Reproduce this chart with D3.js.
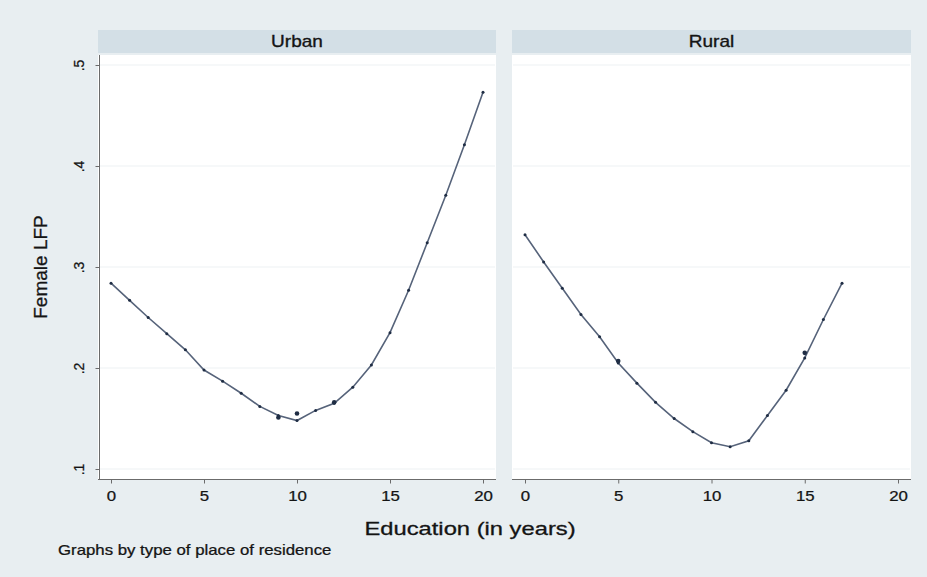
<!DOCTYPE html>
<html>
<head>
<meta charset="utf-8">
<script src="https://cdn.jsdelivr.net/npm/d3@7/dist/d3.min.js"></script>
<style>
  html, body { margin: 0; padding: 0; background: #e8eef1; }
  svg { display: block; font-family: "Liberation Sans", Arial, Helvetica, sans-serif; }
</style>
</head>
<body>
<svg id="chart" width="927" height="577"></svg>
<script>
// Female labour-force participation by years of education, split by residence
const panelNames = ["Urban", "Rural"];
const urbanYears = [0,1,2,3,4,5,6,7,8,9,10,11,12,13,14,15,16,17,18,19,20];
const urbanLFP   = [0.284,0.267,0.250,0.234,0.218,0.198,0.187,0.175,0.162,0.153,0.148,
                    0.158,0.165,0.181,0.203,0.235,0.277,0.324,0.371,0.421,0.473];
const ruralYears = [0,1,2,3,4,5,6,7,8,9,10,11,12,13,14,15,16,17];
const ruralLFP   = [0.332,0.305,0.279,0.253,0.231,0.205,0.185,0.166,0.150,0.137,0.126,
                    0.122,0.128,0.153,0.178,0.210,0.248,0.284];
// repeated observations that sit on top of the fitted points
const urbanRepeatYears = [9, 10, 12];
const urbanRepeatLFP   = [0.151, 0.155, 0.166];
const ruralRepeatYears = [5, 15];
const ruralRepeatLFP   = [0.207, 0.215];

const xTicks = [0, 5, 10, 15, 20];
const yTicks = [0.1, 0.2, 0.3, 0.4, 0.5];
const xTitle = "Education (in years)";
const yTitle = "Female LFP";
const noteText = "Graphs by type of place of residence";

const svg = d3.select("#chart");
const W = 927, H = 577;
const stretch = 1.2;          // wide text, as in the exported graph
const ink = "#141414";

svg.append("rect").attr("width", W).attr("height", H).attr("fill", "#e8eef1");

const bandTop = 30, bandBottom = 53;
const plotTop = 55, plotBottom = 479;
const boxes = [
  { left: 98,  right: 496 },
  { left: 512, right: 911 }
];
const pad = 13;

const y = d3.scaleLinear().domain([0.1, 0.5]).range([469, 65]);

const series = [
  { years: urbanYears, lfp: urbanLFP, ry: urbanRepeatYears, rl: urbanRepeatLFP },
  { years: ruralYears, lfp: ruralLFP, ry: ruralRepeatYears, rl: ruralRepeatLFP }
];

const lineColor = "#56637a";
const dotColor = "#1f2d44";
const fmt = v => d3.format(".1f")(v).replace(/^0/, "");

boxes.forEach((b, i) => {
  const g = svg.append("g");
  const x = d3.scaleLinear().domain([0, 20]).range([b.left + pad, b.right - pad]);

  // strip title
  g.append("rect")
    .attr("x", b.left).attr("y", bandTop)
    .attr("width", b.right - b.left).attr("height", bandBottom - bandTop)
    .attr("fill", "#d3dfe6");
  g.append("text")
    .attr("transform", `translate(${(b.left + b.right) / 2},${bandTop + 17}) scale(1.12,1)`)
    .attr("text-anchor", "middle")
    .attr("font-size", 17).attr("fill", ink)
    .attr("stroke", ink).attr("stroke-width", 0.35)
    .text(panelNames[i]);

  // plot region
  g.append("rect")
    .attr("x", b.left).attr("y", plotTop)
    .attr("width", b.right - b.left).attr("height", plotBottom - plotTop)
    .attr("fill", "#ffffff");

  // grid lines
  g.append("g").selectAll("line").data(yTicks).join("line")
    .attr("x1", b.left + 1).attr("x2", b.right - 1)
    .attr("y1", d => y(d)).attr("y2", d => y(d))
    .attr("stroke", "#edf1f3").attr("stroke-width", 1);

  // x axis
  const xa = g.append("g")
    .attr("transform", `translate(0,${plotBottom + 0.5})`)
    .call(d3.axisBottom(x).tickValues(xTicks).tickSize(4).tickPadding(8).tickFormat(d3.format("d")));
  xa.select(".domain").attr("d", `M${b.left},0H${b.right}`).attr("stroke", "#6b6b6b");
  xa.selectAll(".tick line").attr("stroke", "#6b6b6b");
  xa.selectAll(".tick text").attr("font-size", 14).attr("fill", ink)
    .attr("font-family", "Liberation Sans, Arial, sans-serif")
    .attr("stroke", ink).attr("stroke-width", 0.25)
    .attr("transform", `scale(${stretch},1)`);

  // y axis on the first column only
  if (i === 0) {
    const ya = g.append("g")
      .attr("transform", `translate(${b.left + 1.5},0)`)
      .call(d3.axisLeft(y).tickValues(yTicks).tickSize(4).tickFormat(fmt));
    ya.select(".domain").attr("d", `M0,${plotTop}V${plotBottom}`).attr("stroke", "#6b6b6b");
    ya.selectAll(".tick line").attr("stroke", "#6b6b6b");
    ya.selectAll(".tick text")
      .attr("font-size", 14).attr("fill", ink)
      .attr("font-family", "Liberation Sans, Arial, sans-serif")
      .attr("stroke", ink).attr("stroke-width", 0.25)
      .attr("text-anchor", "middle")
      .attr("x", 0).attr("dy", 0)
      .attr("transform", "translate(-19,0) rotate(-90)")
      .attr("dominant-baseline", "middle");
  }

  // fitted curve
  const s = series[i];
  const pts = s.years.map((yr, k) => [yr, s.lfp[k]]);
  const line = d3.line().x(d => x(d[0])).y(d => y(d[1]));
  g.append("path").datum(pts)
    .attr("d", line)
    .attr("fill", "none").attr("stroke", lineColor).attr("stroke-width", 1.6);

  g.append("g").selectAll("circle").data(pts).join("circle")
    .attr("cx", d => x(d[0])).attr("cy", d => y(d[1])).attr("r", 1.5)
    .attr("fill", dotColor);

  const rep = s.ry.map((yr, k) => [yr, s.rl[k]]);
  g.append("g").selectAll("circle").data(rep).join("circle")
    .attr("cx", d => x(d[0])).attr("cy", d => y(d[1])).attr("r", 2.3)
    .attr("fill", dotColor);
});

// axis titles and note
svg.append("text")
  .attr("transform", "translate(42,267) rotate(-90)")
  .attr("text-anchor", "middle").attr("dominant-baseline", "middle")
  .attr("font-size", 19).attr("fill", ink)
  .attr("stroke", ink).attr("stroke-width", 0.3)
  .text(yTitle);

svg.append("text")
  .attr("transform", `translate(470,535) scale(1.25,1)`)
  .attr("text-anchor", "middle")
  .attr("font-size", 19).attr("fill", ink)
  .attr("stroke", ink).attr("stroke-width", 0.3)
  .text(xTitle);

svg.append("text")
  .attr("transform", `translate(58,555) scale(${stretch},1)`)
  .attr("font-size", 14).attr("fill", ink)
  .attr("stroke", ink).attr("stroke-width", 0.25)
  .text(noteText);
</script>
</body>
</html>
